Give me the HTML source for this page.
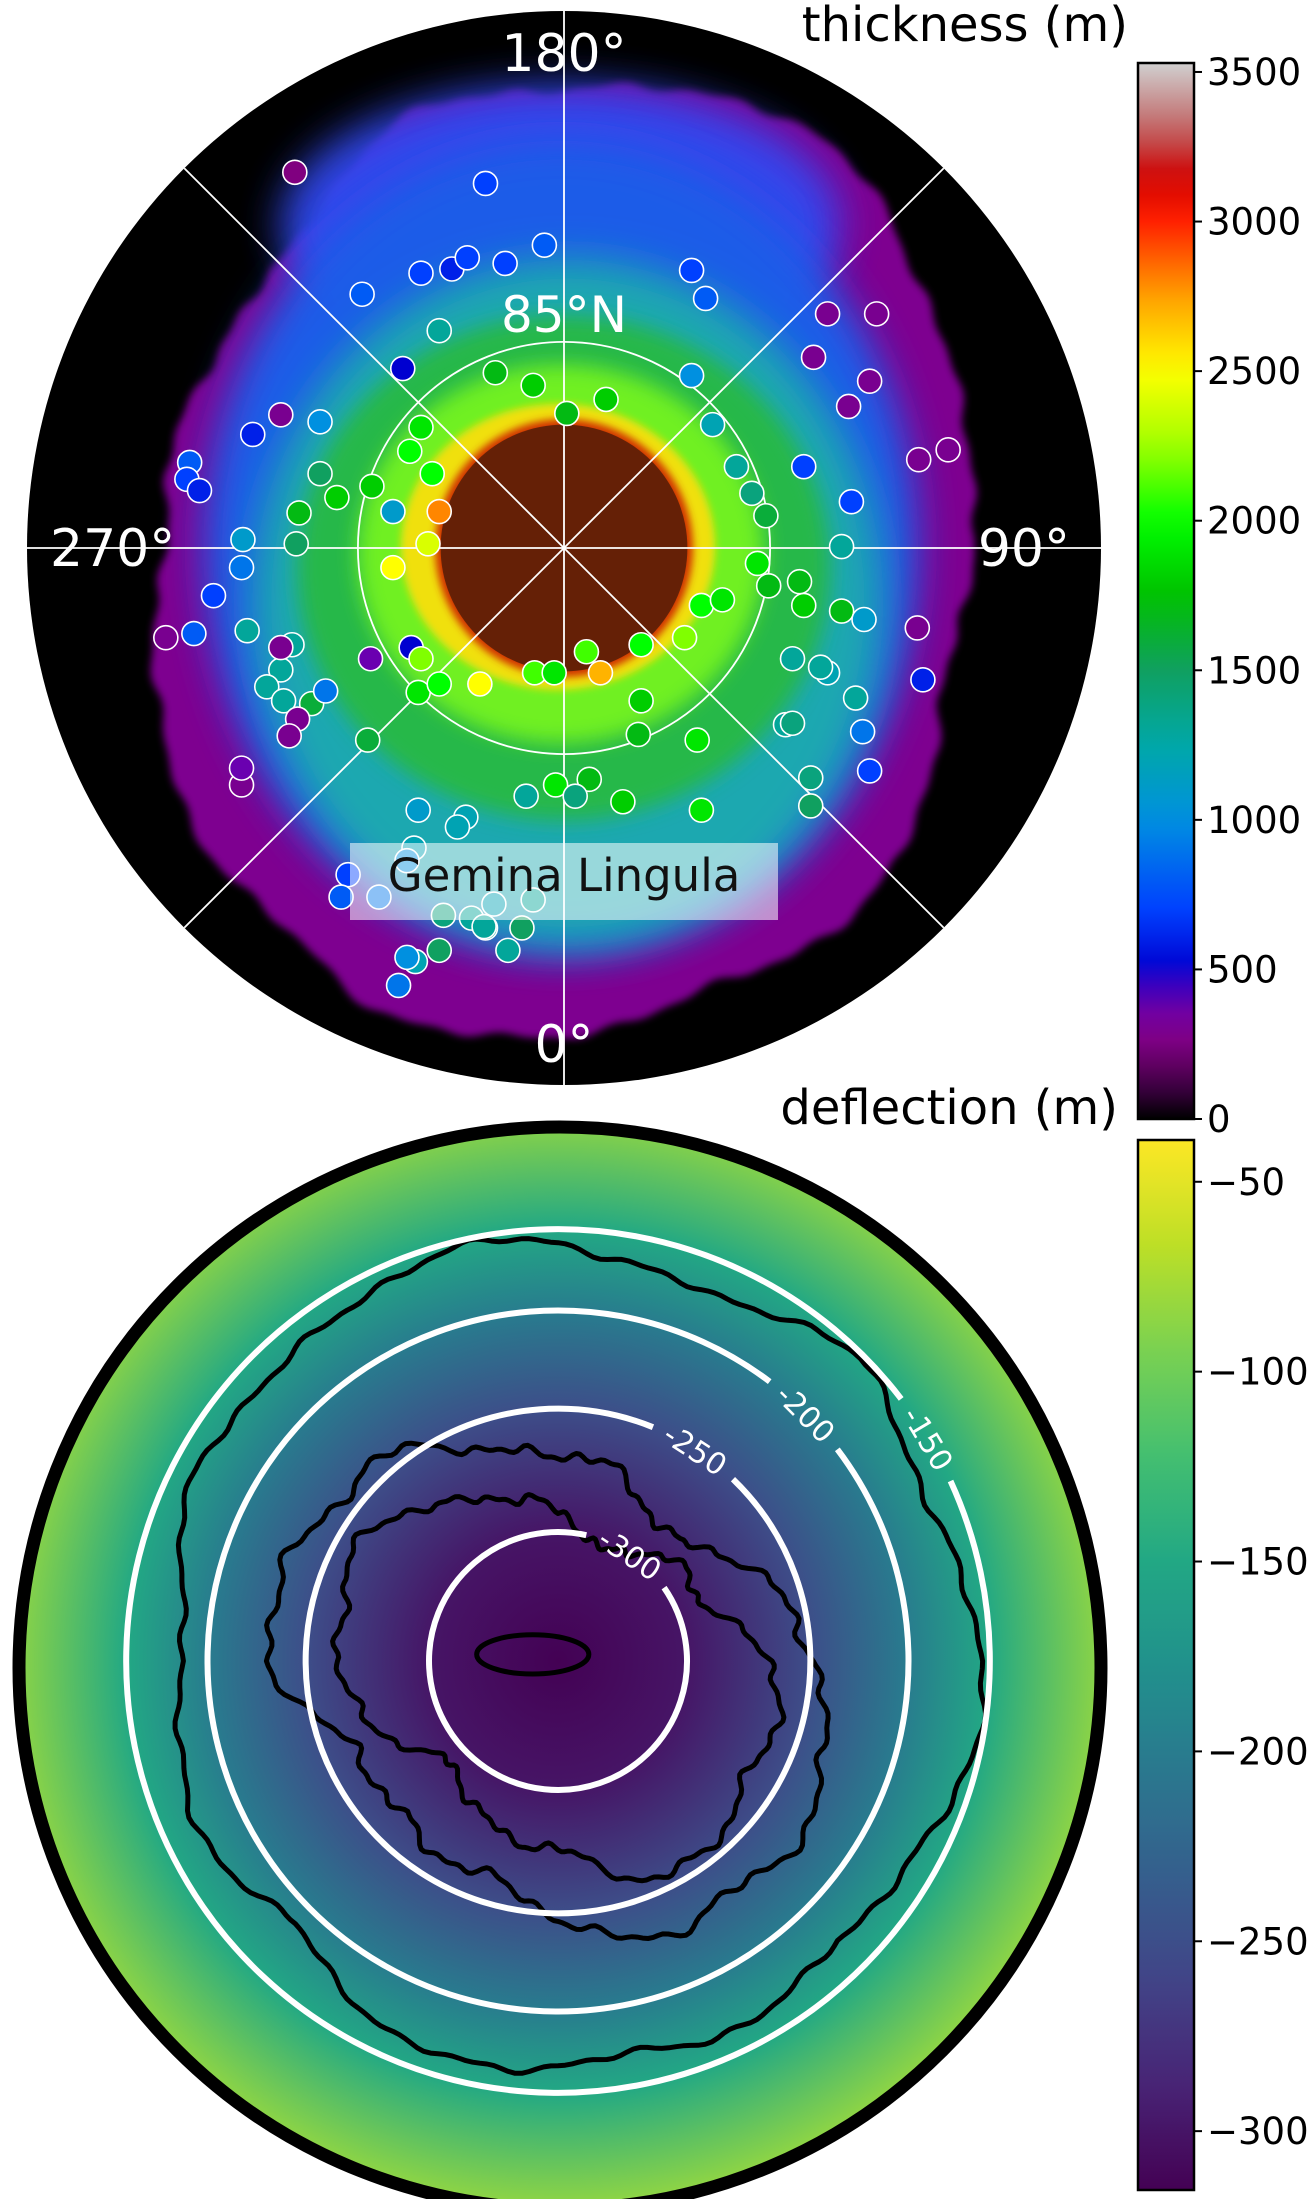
<!DOCTYPE html>
<html><head><meta charset="utf-8"><style>
html,body{margin:0;padding:0;background:#fff;}
svg{display:block;font-family:"DejaVu Sans","Liberation Sans",sans-serif;}
</style></head><body>
<svg id="fig" width="1315" height="2199" viewBox="0 0 1315 2199" xmlns="http://www.w3.org/2000/svg">
<defs>
<filter id="b4" x="-20%" y="-20%" width="140%" height="140%"><feGaussianBlur stdDeviation="4"/></filter>
<filter id="b10" x="-30%" y="-30%" width="160%" height="160%"><feGaussianBlur stdDeviation="10"/></filter>
<filter id="b20" x="-30%" y="-30%" width="160%" height="160%"><feGaussianBlur stdDeviation="20"/></filter>
<clipPath id="topClip"><circle cx="564" cy="548" r="537"/></clipPath>
<clipPath id="botClip"><circle cx="560" cy="1668" r="547"/></clipPath>
</defs>
<g id="topmap"></g>
<g id="botmap"></g>
<g id="cb1"></g>
<g id="cb2"></g>
</svg>
<script>
// ---------- data ----------
const thickTicks = [0,500,1000,1500,2000,2500,3000,3500];
const deflTicks = [-50,-100,-150,-200,-250,-300];
const contourLevels = [-300,-250,-200,-150];
const contourLabelAngle = [34,33,45,59];
const profileKm = [0,184,360,500,616,780];
const profileDefl = [-318,-300,-250,-200,-150,-85];
const obsXKm = [-384,-112,-204,-160,-138,-84,-28,182,202,-288,-178,-230,-404,-444,-348,-98,-44,4,60,182,212,246,342,268,410,288,376,446,356,436,406,506,548,
-534,-538,-520,-458,-460,-382,-378,-324,-348,-274,-220,-204,-188,-178,-194,-244,-244,-218,-568,-528,-500,-452,-388,-404,-424,-400,-360,-340,-280,-380,-460,-460,-392,-404,-276,
-208,-204,-178,-120,-42,-14,32,52,110,172,196,226,276,292,336,342,396,396,428,504,512,376,326,366,416,426,436,352,352,316,326,190,110,106,36,-12,84,196,16,-54,-140,-152,-208,-214,-224,-308,-264,-318,-172,-60,-112,-132,-178,-212,-224,-236,-80,-44,-100,-114,0,62,126,212,366];
const obsYKm = [536,520,392,398,414,406,432,396,356,362,310,256,190,162,180,250,232,192,212,246,176,116,116,78,66,46,334,334,272,238,202,126,140,
122,98,82,12,-28,6,50,72,106,88,138,172,106,52,6,-28,52,-142,-128,-122,-68,-118,-138,-174,-198,-218,-222,-204,-274,-244,-338,-314,-268,
-142,-158,-206,-158,-194,-194,-178,-178,-148,-178,-138,-128,-82,-74,-22,-54,-48,-82,2,-90,-102,-114,-188,-178,-158,-170,-214,-262,-318,-368,-328,-252,-250,-274,-218,-266,-330,-338,-362,-374,-354,-354,-384,-398,-374,-428,-446,-466,-498,-498,-524,-542,-542,-528,-574,-590,-584,-624,-574,-502,-508,-540];
const obsThick = [250,700,700,600,700,700,800,700,800,800,1300,500,300,600,1000,1700,1800,1700,1800,1000,1200,1300,700,1400,700,1600,300,300,300,300,300,300,300,
800,700,600,1100,900,1500,1700,1800,1500,1800,2000,1900,2000,2800,2400,2500,1100,500,300,800,700,1300,1300,1300,1300,1300,1600,900,1600,300,300,400,300,300,400,
1900,2200,2000,2500,2100,1900,2100,2700,2000,2200,2000,1900,1900,1700,1700,1800,1300,1700,1100,300,600,1200,1300,1300,1300,900,700,1500,1400,1300,1400,1900,1800,1700,1700,1900,1800,1900,1400,1300,1200,1200,1100,1200,1000,700,900,800,1400,1500,1300,1300,1500,1200,1000,900,1300,1300,1200,1300,1000,1100,1800,1600,1500,300];
const iceOutlineKm = [600,580,600,570,594,600,580,570,540,560,540,580,580,580,560,600];
const spiralOutlineKm = [380,300,250,260,300,330,380,420,400,330,300,330,360,420,430,400];
const innerOutlineKm = [300,230,200,180,200,260,300,330,320,260,220,240,280,330,340,320];

// ---------- helpers ----------
const NS="http://www.w3.org/2000/svg";
function mk(tag,attrs,parent){const e=document.createElementNS(NS,tag);for(const k in attrs)e.setAttribute(k,attrs[k]);parent.appendChild(e);return e;}
function hex(c){return [parseInt(c.substr(1,2),16),parseInt(c.substr(3,2),16),parseInt(c.substr(5,2),16)];}
function interpColor(stops,v){
  if(v<=stops[0][0])return stops[0][1];
  for(let i=1;i<stops.length;i++){if(v<=stops[i][0]){const a=hex(stops[i-1][1]),b=hex(stops[i][1]);const t=(v-stops[i-1][0])/(stops[i][0]-stops[i-1][0]);return 'rgb('+a.map((x,j)=>Math.round(x+(b[j]-x)*t)).join(',')+')';}}
  return stops[stops.length-1][1];
}
const thickStops=[[0,'#000000'],[100,'#3a003f'],[250,'#800080'],[400,'#6a00b0'],[500,'#0000d0'],[700,'#0040ff'],[1000,'#0090e0'],[1250,'#00a8a8'],[1500,'#10a060'],[1750,'#00c000'],[2000,'#00ff00'],[2250,'#a0ff00'],[2500,'#ffff00'],[2750,'#ffa000'],[3000,'#ff2000'],[3150,'#d00000'],[3300,'#c06060'],[3530,'#d0d0d0']];
const viridis=[[0,'#440154'],[0.1,'#482475'],[0.2,'#414487'],[0.3,'#355f8d'],[0.4,'#2a788e'],[0.5,'#21918c'],[0.6,'#22a884'],[0.7,'#44bf70'],[0.8,'#7ad151'],[0.9,'#bddf26'],[1,'#fde725']];
const dMin=-315.5,dMax=-39;
function vir(v){return interpColor(viridis,(v-dMin)/(dMax-dMin));}
function blobPath(cx,cy,radii,scale,wig,seed){
  let d='';const n=radii.length;
  for(let i=0;i<=360;i++){
    const a=i*Math.PI/180;const f=(i/360)*n;const k=Math.floor(f)%n;const t=f-Math.floor(f);
    let r=(radii[k]*(1-t)+radii[(k+1)%n]*t)*scale;
    r+=wig*(Math.sin(7*a+seed)+0.5*Math.sin(13*a+seed*2)+0.35*Math.sin(29*a+seed*3)+0.25*Math.sin(53*a+seed));
    const x=cx+r*Math.cos(a),y=cy-r*Math.sin(a);
    d+=(i?'L':'M')+x.toFixed(1)+' '+y.toFixed(1);
  }
  return d+'Z';
}
const D=v=>v*1.402;

// ---------- top map ----------
const topG=document.getElementById('topmap');
const TCX=564,TCY=548,TR=537;
let e;
e=mk('circle',{cx:TCX,cy:TCY,r:TR,fill:'#000'},topG);


const tg=mk('g',{'clip-path':'url(#topClip)'},topG);
e=mk('path',{d:blobPath(TCX,TCY,[285,305,330,345,330,320,290,280,290,310,335,355,345,335,325,295],1.402,7,1),fill:'#7e0090',filter:'url(#b4)'},tg);


mk('ellipse',{cx:D(400),cy:D(160),rx:D(200),ry:D(100),fill:'#3048f0',filter:'url(#b20)',opacity:0.95},tg);
mk('ellipse',{cx:D(400),cy:D(390),rx:D(255),ry:D(290),fill:'#1e5ce8',filter:'url(#b20)'},tg);
mk('ellipse',{cx:D(405),cy:D(430),rx:D(225),ry:D(245),fill:'#1aa8b0',filter:'url(#b20)'},tg);
mk('ellipse',{cx:D(402),cy:D(405),rx:D(190),ry:D(180),fill:'#28b848',filter:'url(#b10)'},tg);
mk('ellipse',{cx:D(400),cy:D(395),rx:D(145),ry:D(135),fill:'#70f020',filter:'url(#b10)'},tg);
mk('ellipse',{cx:D(398),cy:D(390),rx:D(112),ry:D(102),fill:'#f0e010',filter:'url(#b4)'},tg);
mk('circle',{cx:TCX,cy:TCY,r:D(92),fill:'#d03000',filter:'url(#b4)'},tg);
e=mk('circle',{cx:TCX,cy:TCY,r:D(88),fill:'#4a1c08',opacity:0.8},tg);


const grid=mk('g',{stroke:'#fff','stroke-width':1.8,fill:'none'},topG);


[0,45,90,135].forEach(a=>{const r=a*Math.PI/180;mk('line',{x1:TCX-TR*Math.cos(r),y1:TCY-TR*Math.sin(r),x2:TCX+TR*Math.cos(r),y2:TCY+TR*Math.sin(r)},grid);});
mk('circle',{cx:TCX,cy:TCY,r:D(147)},grid);
const KM=0.701;
const pts=mk('g',{},topG);


const nPts=Math.min(obsXKm.length,obsYKm.length,obsThick.length);
for(let i=0;i<nPts;i++){
  const c=mk('circle',{cx:TCX+obsXKm[i]*KM,cy:TCY-obsYKm[i]*KM,r:12,fill:interpColor(thickStops,obsThick[i]),stroke:'#fff','stroke-width':1.6},pts);
  
  
}
function txt(parent,x,y,s,size,anchor,fill,name){const t=mk('text',{x:x,y:y,'font-size':size,'text-anchor':anchor,fill:fill},parent);t.textContent=s;return t;}
txt(topG,564,71,'180°',52,'middle','#fff','label-180');
txt(topG,50,566,'270°',52,'start','#fff','label-270');
txt(topG,1070,566,'90°',52,'end','#fff','label-90');
txt(topG,564,1062,'0°',52,'middle','#fff','label-0');
txt(topG,564,332,'85°N',50,'middle','#fff','label-85n');
e=mk('rect',{x:350,y:843,width:428,height:77,fill:'#fff',opacity:0.55},topG);


txt(topG,564,891,'Gemina Lingula',45,'middle','#111','region-label');

// ---------- bottom map ----------
const botG=document.getElementById('botmap');
const BCX=560,BCY=1668,BR=547,CCX=558,CCY=1661;
const maxKm=profileKm[profileKm.length-1];
const rg=mk('radialGradient',{id:'defl',gradientUnits:'userSpaceOnUse',cx:CCX,cy:CCY,r:maxKm*KM},document.querySelector('defs'));
profileKm.forEach((k,i)=>mk('stop',{offset:k/maxKm,'stop-color':vir(profileDefl[i])},rg));
e=mk('circle',{cx:BCX,cy:BCY,r:BR,fill:'url(#defl)'},botG);


function kmAtLevel(v){for(let i=1;i<profileDefl.length;i++){if(v<=profileDefl[i]){const t=(v-profileDefl[i-1])/(profileDefl[i]-profileDefl[i-1]);return profileKm[i-1]+t*(profileKm[i]-profileKm[i-1]);}}return maxKm;}
const bg=mk('g',{'clip-path':'url(#botClip)'},botG);
[[iceOutlineKm,6,2],[spiralOutlineKm,9,5],[innerOutlineKm,8,9]].forEach((o)=>{
  const p=mk('path',{d:blobPath(CCX,CCY,o[0],KM,o[1],o[2]),fill:'none',stroke:'#000','stroke-width':5,'stroke-linejoin':'round'},bg);
  
  
});
e=mk('ellipse',{cx:D(380),cy:D(1180),rx:D(40),ry:D(14),fill:'none',stroke:'#000','stroke-width':5},bg);


contourLevels.forEach((lv,i)=>{
  const r=kmAtLevel(lv)*KM;const phi=contourLabelAngle[i]*Math.PI/180;const g=48/r;
  const a1=phi+g,a2=phi-g;
  const x1=CCX+r*Math.sin(a1),y1=CCY-r*Math.cos(a1),x2=CCX+r*Math.sin(a2),y2=CCY-r*Math.cos(a2);
  const p=mk('path',{d:`M${x1} ${y1}A${r} ${r} 0 1 1 ${x2} ${y2}`,fill:'none',stroke:'#fff','stroke-width':6},botG);
  
  
  const lx=CCX+r*Math.sin(phi),ly=CCY-r*Math.cos(phi);
  const t=txt(botG,lx,ly+11,String(lv),30,'middle','#fff','contour-label');
  t.setAttribute('transform',`rotate(${contourLabelAngle[i]} ${lx} ${ly})`);
});
e=mk('circle',{cx:BCX,cy:BCY,r:BR-6,fill:'none',stroke:'#000','stroke-width':13},botG);



// ---------- colorbars ----------
function colorbar(gid,x,y,w,h,vmin,vmax,colorFn,ticks,title,titleX,titleY,gradId){
  const g=document.getElementById(gid);
  const lg=mk('linearGradient',{id:gradId,x1:0,y1:1,x2:0,y2:0},document.querySelector('defs'));
  for(let i=0;i<=40;i++){const v=vmin+(vmax-vmin)*i/40;mk('stop',{offset:i/40,'stop-color':colorFn(v)},lg);}
  const r=mk('rect',{x:x,y:y,width:w,height:h,fill:`url(#${gradId})`,stroke:'#000','stroke-width':2.5},g);
  
  
  const yv=v=>y+h-(v-vmin)/(vmax-vmin)*h;
  ticks.forEach(v=>{
    const yy=yv(v);
    const l=mk('line',{x1:x+w,y1:yy,x2:x+w+8,y2:yy,stroke:'#000','stroke-width':2},g);
    
    
    txt(g,x+w+13,yy+13,String(v).replace('-','\u2212'),37,'start','#000','colorbar-tick-label');
  });
  txt(g,titleX,titleY,title,48,'end','#000','colorbar-title');
}
colorbar('cb1',1138,63,56,1056,0,3530,v=>interpColor(thickStops,v),thickTicks,'thickness (m)',1128,41,'gThick');
colorbar('cb2',1138,1140,56,1050,dMin,dMax,vir,deflTicks,'deflection (m)',1118,1124,'gDefl');
</script>
</body></html>
